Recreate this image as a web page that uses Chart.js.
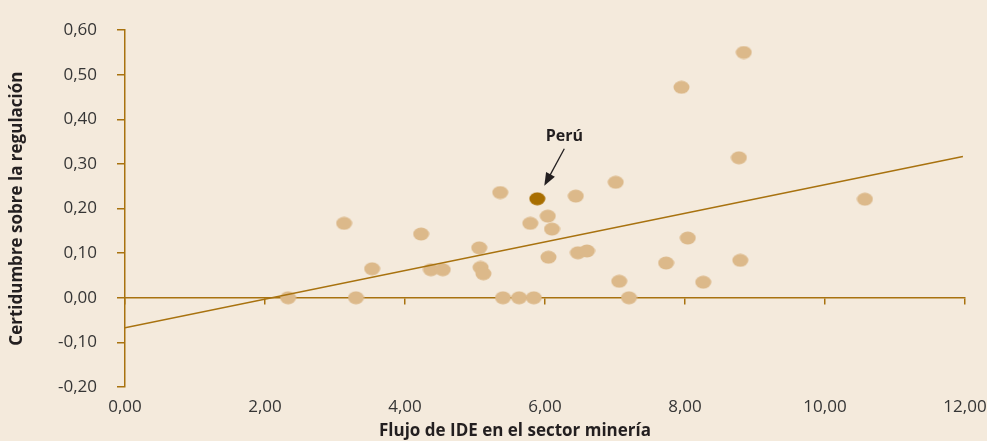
<!DOCTYPE html>
<html>
<head>
<meta charset="utf-8">
<script src="https://cdn.jsdelivr.net/npm/chart.js@4.4.1/dist/chart.umd.min.js"></script>
<style>
  html, body { margin: 0; padding: 0; background: #f4eadc; }
  #wrap { width: 987px; height: 441px; }
</style>
</head>
<body>
<div id="wrap"><canvas id="chart"></canvas></div>
<script>
// Flujo de IDE en el sector minería (x) vs certidumbre sobre la regulación (y)
var flujoIDE = [2.33, 3.13, 3.30, 3.53, 4.23, 4.37, 4.54, 5.06, 5.08, 5.12, 5.36, 5.40, 5.63, 5.84, 5.79, 6.04,
                6.10, 6.05, 6.44, 6.47, 6.60, 7.01, 7.06, 7.20, 7.73, 7.95, 8.04, 8.26, 8.77, 8.79, 8.84, 10.57];
var certidumbre = [0.00, 0.167, 0.00, 0.065, 0.143, 0.063, 0.063, 0.112, 0.068, 0.054, 0.236, 0.00, 0.00, 0.00, 0.167, 0.183,
                   0.154, 0.091, 0.228, 0.101, 0.105, 0.259, 0.037, 0.00, 0.078, 0.472, 0.134, 0.035, 0.314, 0.084, 0.550, 0.221];
var peruNombre = ['Perú'];
var peruX = [5.89];
var peruY = [0.222];
// recta de tendencia
var tendenciaX = [0, 11.97];
var tendenciaY = [-0.067, 0.317];
var xTicks = [0, 2, 4, 6, 8, 10, 12];
var yTicks = [-0.2, -0.1, 0, 0.1, 0.2, 0.3, 0.4, 0.5, 0.6];
var xTitulo = 'Flujo de IDE en el sector minería';
var yTitulo = 'Certidumbre sobre la regulación';

var axisColor = '#a8720f';
var pointColor = '#dcb98a';
var peruColor = '#a86e00';
var textColor = '#353535';
var titleColor = '#231f20';

function toPoints(xs, ys) {
    return xs.map(function (x, i) { return { x: x, y: ys[i] }; });
}

// little ellipse used as point style
function ellipse(color) {
    var c = document.createElement('canvas');
    c.width = 17;
    c.height = 14;
    var g = c.getContext('2d');
    g.fillStyle = color;
    g.beginPath();
    g.ellipse(8.5, 7, 8, 6.5, 0, 0, Math.PI * 2);
    g.fill();
    return c;
}

function fmt(v) {
    return v.toFixed(2).replace('.', ',');
}

// Perú callout + x axis title (sits a bit left of centre in the original)
var extras = {
    id: 'extras',
    afterDatasetsDraw: function (chart) {
        var pt = chart.getDatasetMeta(1).data[0];
        var ctx = chart.ctx;
        var px = pt.x, py = pt.y;
        ctx.save();
        ctx.fillStyle = titleColor;
        ctx.strokeStyle = titleColor;
        ctx.font = 'bold 16px "Open Sans"';
        ctx.textAlign = 'center';
        ctx.textBaseline = 'middle';
        ctx.fillText(peruNombre[0], px + 27, py - 62);

        var x1 = px + 27, y1 = py - 50, x2 = px + 7, y2 = py - 13;
        var ang = Math.atan2(y2 - y1, x2 - x1);
        ctx.lineWidth = 1.3;
        ctx.beginPath();
        ctx.moveTo(x1, y1);
        ctx.lineTo(x2 - 9 * Math.cos(ang), y2 - 9 * Math.sin(ang));
        ctx.stroke();
        ctx.beginPath();
        ctx.moveTo(x2, y2);
        ctx.lineTo(x2 - 13 * Math.cos(ang) + 5 * Math.sin(ang), y2 - 13 * Math.sin(ang) - 5 * Math.cos(ang));
        ctx.lineTo(x2 - 13 * Math.cos(ang) - 5 * Math.sin(ang), y2 - 13 * Math.sin(ang) + 5 * Math.cos(ang));
        ctx.closePath();
        ctx.fill();

        var a = chart.chartArea;
        ctx.font = 'bold 17px "Open Sans"';
        ctx.fillText(xTitulo, (a.left + a.right) / 2 - 30, chart.height - 10);
        ctx.restore();
    }
};

var chart = new Chart(document.getElementById('chart'), {
    type: 'scatter',
    data: {
        datasets: [
            {
                type: 'line',
                data: toPoints(tendenciaX, tendenciaY),
                borderColor: axisColor,
                borderWidth: 1.5,
                pointRadius: 0,
                fill: false
            },
            {
                data: toPoints(peruX, peruY),
                pointStyle: ellipse(peruColor)
            },
            {
                data: toPoints(flujoIDE, certidumbre),
                pointStyle: ellipse(pointColor)
            }
        ]
    },
    options: {
        responsive: true,
        maintainAspectRatio: false,
        animation: false,
        layout: { padding: { top: 28, right: 22, left: 0, bottom: 0 } },
        plugins: {
            legend: { display: false },
            tooltip: { enabled: false }
        },
        scales: {
            x: {
                type: 'linear',
                position: 'bottom',
                min: 0,
                max: 12,
                afterBuildTicks: function (s) { s.ticks = xTicks.map(function (v) { return { value: v }; }); },
                afterFit: function (s) { s.height = 54; s.paddingRight = 0; s.paddingLeft = 0; },
                grid: { display: false },
                border: { display: false },
                ticks: {
                    padding: 2,
                    color: textColor,
                    font: { family: '"Open Sans"', size: 17 },
                    callback: function (v) { return fmt(v); }
                },
                title: { display: false }
            },
            x0: {
                type: 'linear',
                position: { y: 0 },
                min: 0,
                max: 12,
                afterBuildTicks: function (s) { s.ticks = xTicks.map(function (v) { return { value: v }; }); },
                afterFit: function (s) { s.paddingRight = 0; s.paddingLeft = 0; },
                grid: { drawOnChartArea: false, color: axisColor, tickLength: 6, lineWidth: 1.5 },
                border: { color: axisColor, width: 1.5 },
                ticks: { display: false }
            },
            y: {
                type: 'linear',
                position: 'left',
                min: -0.2,
                max: 0.6,
                afterBuildTicks: function (s) { s.ticks = yTicks.map(function (v) { return { value: v }; }); },
                afterFit: function (s) { s.width = 125; },
                grid: { drawOnChartArea: false, color: axisColor, tickLength: 8, lineWidth: 1.5 },
                border: { color: axisColor, width: 1.5 },
                ticks: {
                    padding: 20,
                    color: textColor,
                    font: { family: '"Open Sans"', size: 17 },
                    callback: function (v) { return fmt(v); }
                },
                title: {
                    display: true,
                    text: yTitulo,
                    color: titleColor,
                    font: { family: '"Open Sans"', size: 17, weight: 'bold' },
                    padding: { top: 7, bottom: 0 }
                }
            }
        }
    },
    plugins: [extras]
});
</script>
</body>
</html>
